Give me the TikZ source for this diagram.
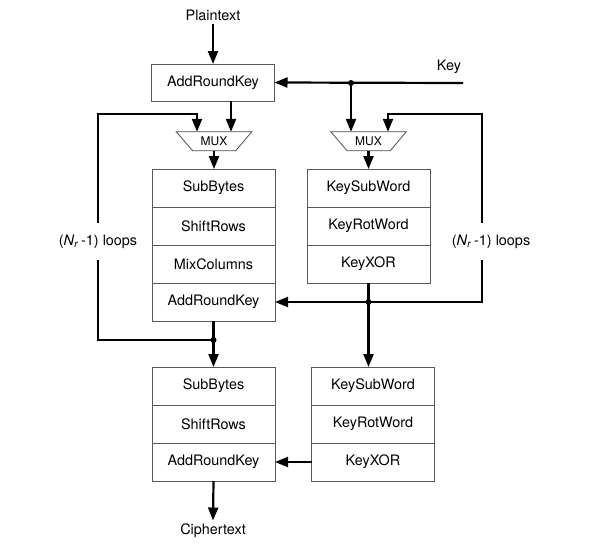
\documentclass[tikz,border=0pt]{standalone}
\usepackage{fontspec}
\setmainfont{TeX Gyre Heros}
\usetikzlibrary{arrows.meta,positioning}
\begin{document}
\begin{tikzpicture}[x=1pt,y=-1pt,
		stage/.style={draw=black!65,line width=0.8pt,minimum width=123pt,minimum height=38pt,inner sep=0pt,outer sep=0pt,font=\fontsize{14.4}{16}\selectfont},
		lbl/.style={font=\fontsize{14.4}{16}\selectfont},
		mux/.style={minimum width=75pt,minimum height=19pt,inner sep=0pt,font=\fontsize{12}{14}\selectfont},
		wire/.style={line width=2.2pt},
		arr/.style={wire,-{Triangle[length=13pt,width=10pt]}},
		junction/.style={circle,fill=black,inner sep=0pt,minimum size=6pt}]
	\useasboundingbox (0,0) rectangle (609,552);
	% input and first round key
	\node[lbl] (plain) at (213,15) {Plaintext};
	\node[stage,minimum height=37pt] (ark0) at (213,82.5) {AddRoundKey};
	\node[lbl] (key) at (449,67) {Key};
	\coordinate (keyend) at (463,83);
	\coordinate (kdot) at (351,83);
	% multiplexers
	\node[mux] (muxL) at (214,141.5) {MUX};
	\node[mux] (muxR) at (368.5,141.5) {MUX};
	\foreach \m in {muxL,muxR}
		\draw[black!70,line width=0.8pt] (\m.north west) -- (\m.north east) -- ++(-16,19) -- ++(-43,0) -- cycle;
	% round
	\node[stage] (sb1) at (213.5,188) {SubBytes};
	\node[stage,below=0pt of sb1] (sr1) {ShiftRows};
	\node[stage,below=0pt of sr1] (mc1) {MixColumns};
	\node[stage,below=0pt of mc1] (ark1) {AddRoundKey};
	\node[stage] (ksw1) at (368.5,188) {KeySubWord};
	\node[stage,below=0pt of ksw1] (krw1) {KeyRotWord};
	\node[stage,below=0pt of krw1] (kxor1) {KeyXOR};
	% final round
	\node[stage] (sb2) at (213.5,386) {SubBytes};
	\node[stage,below=0pt of sb2] (sr2) {ShiftRows};
	\node[stage,below=0pt of sr2] (ark2) {AddRoundKey};
	\node[stage] (ksw2) at (373,386) {KeySubWord};
	\node[stage,below=0pt of ksw2] (krw2) {KeyRotWord};
	\node[stage,below=0pt of krw2] (kxor2) {KeyXOR};
	\node[lbl] (cipher) at (213,531) {Ciphertext};
	% loop labels
	\node[lbl,minimum height=37pt,inner sep=1pt] (loopL) at (98,241.5) {(\textit{N}\textsubscript{\textit{r}}\,-1) loops};
	\node[lbl,minimum height=37pt,inner sep=1pt] (loopR) at (491,241.5) {(\textit{N}\textsubscript{\textit{r}}\,-1) loops};
	\coordinate (lcorner) at (197,114);
	\coordinate (rcorner) at (388,114);
	\coordinate (ldot) at (213.5,340);
	\coordinate (rdot) at (kxor1.south |- ark1);
	% connectors
	\draw[arr] (plain) -- (ark0);
	\draw[arr] (keyend) -- (ark0.east);
	\draw[arr] (kdot) -- (kdot |- muxR.north);
	\draw[arr] ([xshift=18pt]ark0.south) -- ([xshift=18pt]ark0.south |- muxL.north);
	\draw[arr] (muxL.south) -- (muxL.south |- sb1.north);
	\draw[arr] (muxR.south) -- (muxR.south |- ksw1.north);
	\draw[wire] (ldot) -| (loopL.south);
	\draw[arr] (loopL.north) |- (lcorner) -- (lcorner |- muxL.north);
	\draw[arr] ([xshift=-9pt]loopR.north) |- (rcorner) -- (rcorner |- muxR.north);
	\draw[arr] ([xshift=-9pt]loopR.south) |- (ark1.east);
	\draw[arr] (kxor1.south) -- (kxor1.south |- ksw2.north);
	\draw[arr] (ark1.south) -- (sb2.north);
	\draw[arr] (kxor2.west) -- (ark2.east);
	\draw[arr] (ark2.south) -- (cipher.north);
	\foreach \j in {kdot,ldot,rdot}
		\node[junction] at (\j) {};
\end{tikzpicture}
\end{document}
